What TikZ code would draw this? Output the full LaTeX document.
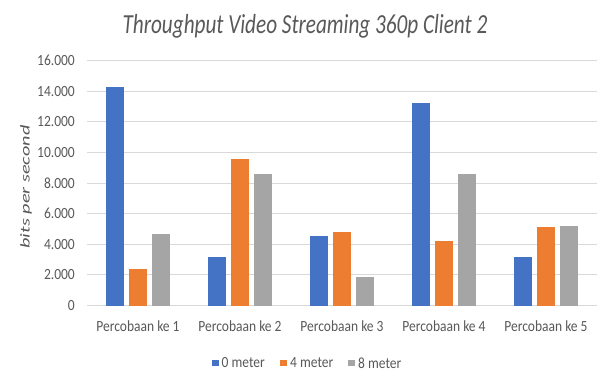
\documentclass[tikz,border=0pt]{standalone}
\usepackage{fontspec}
\setmainfont{Carlito}
\definecolor{seriesA}{HTML}{4472C4}
\definecolor{seriesB}{HTML}{ED7D31}
\definecolor{seriesC}{HTML}{A5A5A5}
\definecolor{gridgray}{HTML}{D9D9D9}
\definecolor{labelgray}{HTML}{595959}
\tikzset{
  ticklabel/.style={anchor=east, inner sep=0pt, text=labelgray, font=\fontsize{13.5}{15}\selectfont, yscale=1.15},
  catlabel/.style={anchor=center, inner sep=0pt, text=labelgray, font=\fontsize{13.5}{15}\selectfont, yscale=1.15},
  legendlabel/.style={anchor=west, inner sep=0pt, text=labelgray, font=\fontsize{13.5}{15}\selectfont, yscale=1.15},
  gridline/.style={draw=gridgray, line width=1pt},
  barA/.style={fill=seriesA},
  barB/.style={fill=seriesB},
  barC/.style={fill=seriesC},
}
\begin{document}
\begin{tikzpicture}[x=1pt, y=-1pt]
\useasboundingbox[fill=white] (0,0) rectangle (603,372);

% chart title
\node[text=labelgray, font=\fontsize{21.2}{24}\itshape, inner sep=0pt, anchor=base, yscale=1.3] (title) at (305,33.3) {Throughput Video Streaming 360p Client 2};

% axis title
\node[text=labelgray, font=\fontsize{13.5}{14}\itshape, rotate=90, inner sep=0pt] (ytitle) at (26,187) {\scalebox{1.5}[1]{bits per second}};

% plot area: value axis runs from 0 at y=305.5 upwards
\begin{scope}[shift={(0,305.5)}, y=0.0153pt]
  \foreach \v/\lab in {0/0,2000/2.000,4000/4.000,6000/6.000,8000/8.000,10000/10.000,12000/12.000,14000/14.000,16000/16.000}{
    \draw[gridline] (87,\v) -- (597,\v);
    \node[ticklabel] (tick\v) at (75,\v) {\lab};
  }
  % bars: group center = 36 + 102*i, series offsets -23, 0, +23
  \foreach \i/\a/\b/\c in {1/14300/2400/4700, 2/3200/9600/8600, 3/4550/4800/1850, 4/13200/4200/8600, 5/3200/5100/5200}{
    \pgfmathsetmacro{\cx}{36+102*\i}
    \fill[barA] (\cx-23-9.2,0) rectangle (\cx-23+9.2,\a);
    \fill[barB] (\cx-9.2,0) rectangle (\cx+9.2,\b);
    \fill[barC] (\cx+23-9.2,0) rectangle (\cx+23+9.2,\c);
  }
\end{scope}

% category labels
\foreach \i in {1,...,5}{
  \node[catlabel] (cat\i) at (36+102*\i,326) {Percobaan ke \i};
}

% legend
\fill[seriesA] (211.7,359.5) rectangle ++(6.8,6.8);
\node[legendlabel] (legA) at (221.5,363) {0 meter};
\fill[seriesB] (280,359.5) rectangle ++(6.8,6.8);
\node[legendlabel] (legB) at (290,363) {4 meter};
\fill[seriesC] (348.3,359.5) rectangle ++(6.8,6.8);
\node[legendlabel] (legC) at (358,363) {8 meter};
\end{tikzpicture}
\end{document}
